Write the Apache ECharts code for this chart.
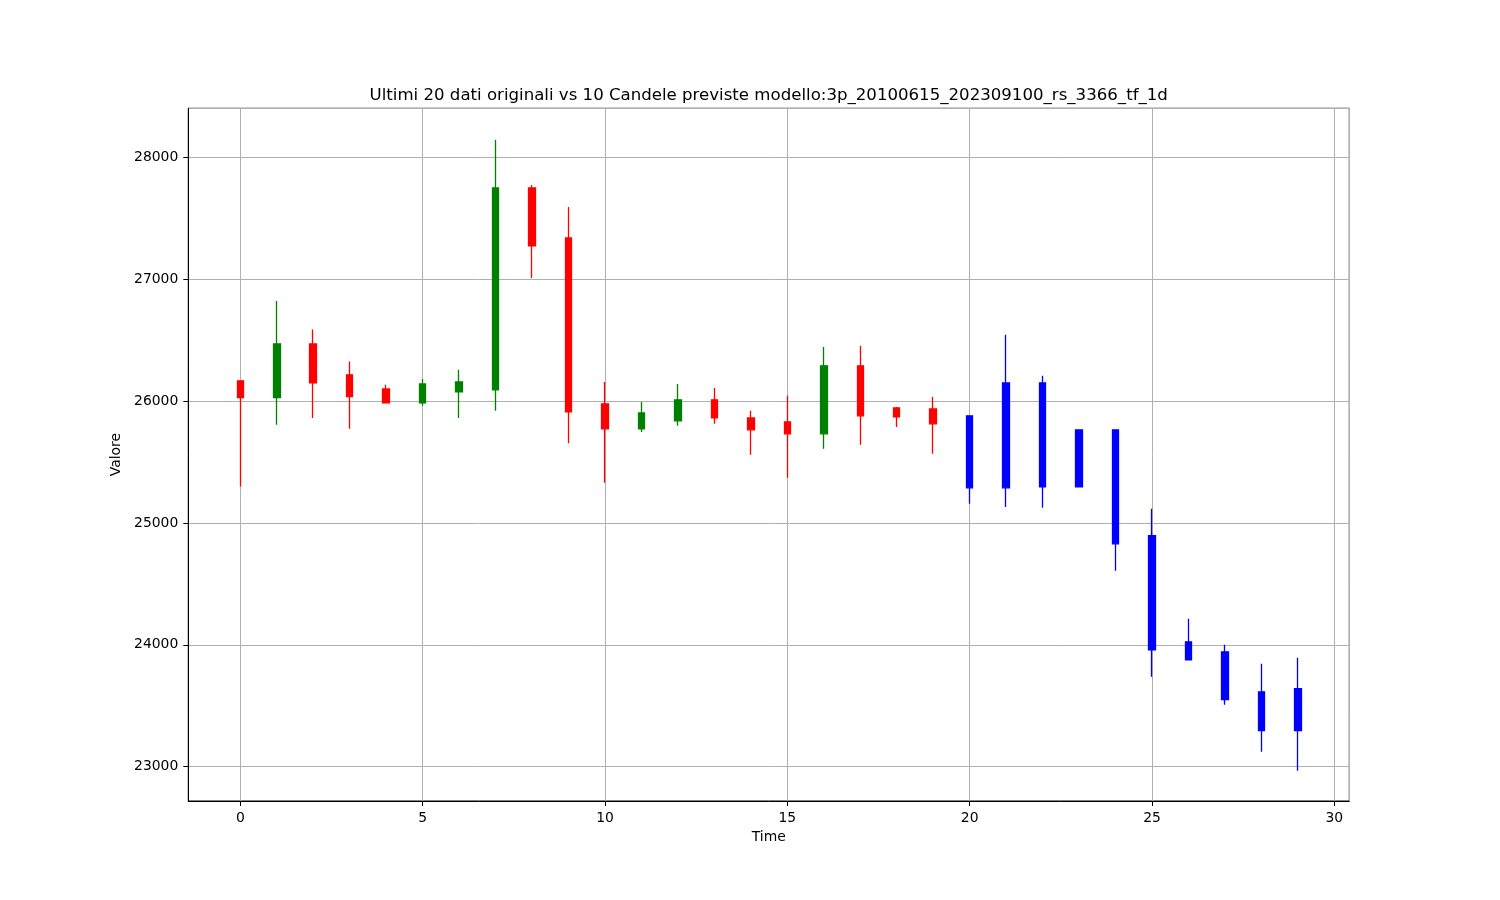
<!DOCTYPE html>
<html>
<head>
<meta charset="utf-8">
<script src="https://cdn.jsdelivr.net/npm/echarts@6/dist/echarts.min.js"></script>
<style>
html,body{margin:0;padding:0;background:#fff;}
#chart{width:1500px;height:900px;}
</style>
</head>
<body>
<div id="chart"></div>
<script>
// ---- Data ----
const titleText = 'Ultimi 20 dati originali vs 10 Candele previste modello:3p_20100615_202309100_rs_3366_tf_1d';
const xName = 'Time';
const yName = 'Valore';

// Original candles (time 0..19)
const origTime  = [0, 1, 2, 3, 4, 5, 6, 7, 8, 9, 10, 11, 12, 13, 14, 15, 16, 17, 18, 19];
const origOpen  = [26166, 26029, 26469, 26215, 26100, 25985, 26075, 26092, 27748, 27338, 25977, 25772, 25838, 26010, 25862, 25829, 25731, 26289, 25944, 25936];
const origClose = [26029, 26469, 26149, 26037, 25985, 26141, 26157, 27748, 27273, 25911, 25772, 25903, 26010, 25862, 25764, 25731, 26289, 25879, 25870, 25813];
const origLow   = [25299, 25805, 25862, 25772, 25985, 25961, 25862, 25920, 27010, 25655, 25329, 25747, 25797, 25813, 25559, 25370, 25608, 25641, 25788, 25567];
const origHigh  = [26166, 26822, 26587, 26324, 26133, 26182, 26258, 28144, 27773, 27592, 26157, 25993, 26141, 26108, 25920, 26043, 26444, 26453, 25952, 26034];

// Predicted candles (time 20..29)
const predTime  = [20, 21, 22, 23, 24, 25, 26, 27, 28, 29];
const predOpen  = [25879, 26149, 26149, 25764, 25764, 24895, 24025, 23943, 23615, 23640];
const predClose = [25288, 25288, 25296, 25296, 24829, 23960, 23878, 23550, 23296, 23296];
const predLow   = [25157, 25132, 25124, 25296, 24608, 23738, 23878, 23509, 23123, 22968];
const predHigh  = [25879, 26545, 26207, 25764, 25764, 25116, 24214, 24001, 23845, 23894];

function build(t, o, c, l, h) {
  return t.map((x, i) => [x, o[i], c[i], l[i], h[i]]);
}

const FONT = 'DejaVu Sans';
const chart = echarts.init(document.getElementById('chart'), null, {renderer: 'canvas'});

const candleCommon = {
  type: 'candlestick',
  dimensions: ['t', 'open', 'close', 'lowest', 'highest'],
  encode: {x: 't', y: ['open', 'close', 'lowest', 'highest']},
  barWidth: 7.0,
  animation: false
};

chart.setOption({
  animation: false,
  backgroundColor: '#ffffff',
  title: {
    text: titleText,
    left: 763.7,
    top: 82,
    textAlign: 'center',
    textStyle: {fontFamily: FONT, fontSize: 16.6, fontWeight: 'normal', color: '#000'}
  },
  grid: {
    left: 188.3, right: 150.7, top: 108.3, bottom: 99,
    show: true, borderColor: '#000', borderWidth: 1, backgroundColor: 'transparent'
  },
  xAxis: {
    type: 'value',
    min: -1.426,
    max: 30.41,
    name: xName,
    nameLocation: 'middle',
    nameGap: 28,
    nameTextStyle: {fontFamily: FONT, fontSize: 13.9, color: '#000'},
    axisLine: {show: true, onZero: false, lineStyle: {color: '#000', width: 1}},
    axisTick: {show: true, length: 5, lineStyle: {color: '#000', width: 1}},
    axisLabel: {fontFamily: FONT, fontSize: 13.9, color: '#000', margin: 10, showMinLabel: false, showMaxLabel: false},
    splitLine: {show: true, lineStyle: {color: '#b0b0b0', width: 1}}
  },
  yAxis: {
    type: 'value',
    min: 22719,
    max: 28402,
    scale: true,
    name: yName,
    nameLocation: 'middle',
    nameGap: 52,
    nameTextStyle: {fontFamily: FONT, fontSize: 13.9, color: '#000'},
    axisLine: {show: true, onZero: false, lineStyle: {color: '#000', width: 1}},
    axisTick: {show: true, length: 5, lineStyle: {color: '#000', width: 1}},
    axisLabel: {fontFamily: FONT, fontSize: 13.9, color: '#000', margin: 10, showMinLabel: false, showMaxLabel: false,
      formatter: function (v) { return String(Math.round(v)); }},
    splitLine: {show: true, lineStyle: {color: '#b0b0b0', width: 1}}
  },
  series: [
    Object.assign({}, candleCommon, {
      name: 'original',
      data: build(origTime, origOpen, origClose, origLow, origHigh),
      itemStyle: {color: '#008000', color0: '#ff0000', borderColor: '#008000', borderColor0: '#ff0000', borderWidth: 1.3}
    }),
    Object.assign({}, candleCommon, {
      name: 'predicted',
      data: build(predTime, predOpen, predClose, predLow, predHigh),
      itemStyle: {color: '#0000ff', color0: '#0000ff', borderColor: '#0000ff', borderColor0: '#0000ff', borderWidth: 1.3}
    })
  ]
});
</script>
</body>
</html>
